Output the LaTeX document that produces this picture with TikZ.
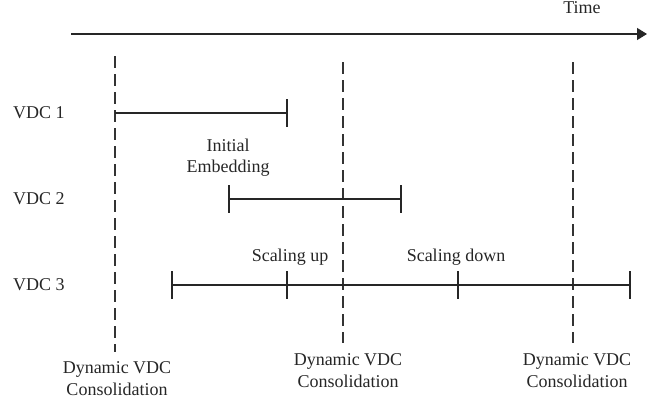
\documentclass[tikz,border=0pt]{standalone}
\usepackage{fontspec}
\setmainfont{Liberation Serif}
\usetikzlibrary{arrows.meta}
\begin{document}
\begin{tikzpicture}[x=1pt,y=-1pt,
  lbl/.style={font=\fontsize{18}{21.5}\selectfont, inner sep=0pt, align=center, text=black!85},
  seg/.style={line width=1.3pt, draw=black!85},
  vline/.style={line width=1.3pt, draw=black!80, dash pattern=on 12pt off 6pt},
  tickmark/.style={line width=1.3pt, draw=black!85}
]
\useasboundingbox (0,0) rectangle (662,407);
% time axis
\coordinate (t0) at (71,34);
\coordinate (t1) at (647,34);
\draw[seg, -{Triangle[length=10pt,width=12pt]}] (t0) -- (t1);
\node[lbl, anchor=base] (time) at (582,13) {Time};
% consolidation lines
\coordinate (d1a) at (115,56);  \coordinate (d1b) at (115,352);
\coordinate (d2a) at (343,62);  \coordinate (d2b) at (343,343);
\coordinate (d3a) at (573,62);  \coordinate (d3b) at (573,343);
\draw[vline] (d1a) -- (d1b);
\draw[vline] (d2a) -- (d2b);
\draw[vline] (d3a) -- (d3b);
% VDC labels
\node[lbl, anchor=base west] (v1) at (13,118) {VDC 1};
\node[lbl, anchor=base west] (v2) at (13,204) {VDC 2};
\node[lbl, anchor=base west] (v3) at (13,290) {VDC 3};
% VDC 1
\coordinate (a1) at (115,113); \coordinate (b1) at (287,113);
\draw[seg] (a1) -- (b1);
\draw[tickmark] (b1) ++(0,-14) -- ++(0,28);
% VDC 2
\coordinate (a2) at (229,199); \coordinate (b2) at (401,199);
\draw[seg] (a2) -- (b2);
\draw[tickmark] (a2) ++(0,-14) -- ++(0,28);
\draw[tickmark] (b2) ++(0,-14) -- ++(0,28);
% VDC 3
\coordinate (a3) at (172,285); \coordinate (m1) at (287,285);
\coordinate (m2) at (458,285); \coordinate (b3) at (630,285);
\draw[seg] (a3) -- (b3);
\foreach \c in {a3,m1,m2,b3} \draw[tickmark] (\c) ++(0,-14) -- ++(0,28);
% event labels
\node[lbl, anchor=north] (ie) at (228,138.5) {Initial\\Embedding};
\node[lbl, anchor=base] (su) at (290,261) {Scaling up};
\node[lbl, anchor=base] (sd) at (456,261) {Scaling down};
% consolidation labels
\node[lbl, anchor=north] (c1) at (117,361.5) {Dynamic VDC\\Consolidation};
\node[lbl, anchor=north] (c2) at (348,353.5) {Dynamic VDC\\Consolidation};
\node[lbl, anchor=north] (c3) at (577,353.5) {Dynamic VDC\\Consolidation};
\end{tikzpicture}
\end{document}
